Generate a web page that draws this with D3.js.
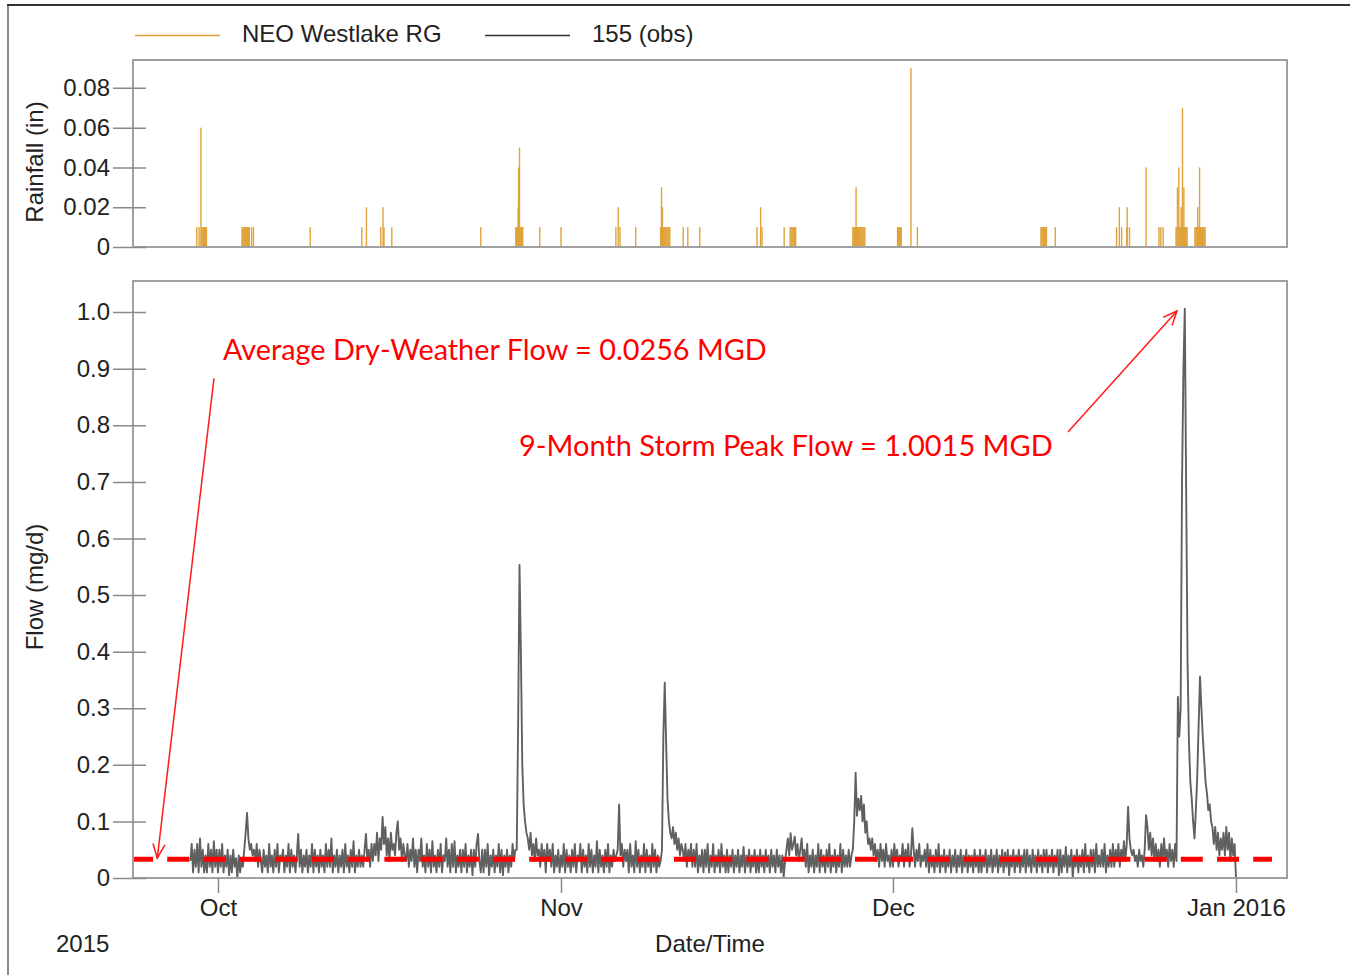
<!DOCTYPE html>
<html>
<head>
<meta charset="utf-8">
<title>155 (obs) flow vs NEO Westlake RG rainfall</title>
<script src="https://d3js.org/d3.v7.min.js"></script>
<style>
	body { margin:0; background:#ffffff; }
	svg { display:block; }
	svg text { font-family:"Liberation Sans", Arial, sans-serif; fill:#222; }
	.axis path { display:none; }
	.axis line { stroke:#8a8a8a; stroke-width:1.5; }
	.axis text { font-size:24px; fill:#222; }
	.panel { fill:none; stroke:#a0a0a0; stroke-width:2; }
	.rainbar { fill:#e0a33b; }
	.flowline { fill:none; stroke:#606060; stroke-width:1.9; stroke-linejoin:round; }
	.dwf { fill:none; stroke:#ff0000; stroke-width:5; stroke-dasharray:22,14.2; stroke-dashoffset:2; }
	.note { font-family:Lato, "Open Sans", sans-serif; fill:#ff0000; }
	.pointer { stroke:#ff1a1a; stroke-width:1.5; fill:none; }
	.title { font-size:24px; }
</style>
</head>
<body>
<div id="chart"></div>
<script>
	var parseTime = d3.timeParse("%Y-%m-%d %H:%M");

	// rain gauge NEO Westlake RG - hourly depth (in)
	var rainTimes = [
		"2015-09-29 02:00","2015-09-29 07:00","2015-09-29 11:00","2015-09-29 13:00","2015-09-29 15:00","2015-09-29 17:00","2015-09-29 19:00","2015-09-29 21:00","2015-09-29 23:00",
		"2015-10-03 04:00","2015-10-03 06:00","2015-10-03 08:00","2015-10-03 10:00","2015-10-03 12:00","2015-10-03 14:00","2015-10-03 16:00","2015-10-03 18:00","2015-10-03 20:00","2015-10-04 01:00","2015-10-04 05:00",
		"2015-10-09 08:00","2015-10-14 00:00","2015-10-14 10:00","2015-10-15 17:00","2015-10-15 22:00","2015-10-16 00:00","2015-10-16 17:00","2015-10-24 18:00",
		"2015-10-27 22:00","2015-10-28 00:00","2015-10-28 02:00","2015-10-28 03:00","2015-10-28 04:00","2015-10-28 06:00","2015-10-28 08:00","2015-10-28 10:00","2015-10-28 12:00","2015-10-28 13:00",
		"2015-10-30 02:00","2015-11-01 00:00","2015-11-05 23:00","2015-11-06 04:00","2015-11-06 08:00","2015-11-07 18:00",
		"2015-11-10 00:00","2015-11-10 02:00","2015-11-10 04:00","2015-11-10 06:00","2015-11-10 08:00","2015-11-10 10:00","2015-11-10 12:00","2015-11-10 14:00","2015-11-10 16:00","2015-11-10 18:00","2015-11-10 20:00",
		"2015-11-12 01:00","2015-11-12 11:00","2015-11-13 13:00","2015-11-18 17:00","2015-11-19 01:00","2015-11-19 04:00",
		"2015-11-21 04:00","2015-11-21 17:00","2015-11-21 19:00","2015-11-21 21:00","2015-11-21 23:00","2015-11-22 01:00","2015-11-22 03:00","2015-11-22 05:00",
		"2015-11-27 09:00","2015-11-27 11:00","2015-11-27 13:00","2015-11-27 15:00","2015-11-27 16:00","2015-11-27 17:00","2015-11-27 19:00","2015-11-27 21:00","2015-11-27 23:00",
		"2015-11-28 01:00","2015-11-28 03:00","2015-11-28 05:00","2015-11-28 07:00","2015-11-28 09:00","2015-11-28 11:00",
		"2015-12-01 10:00","2015-12-01 12:00","2015-12-01 14:00","2015-12-01 16:00","2015-12-01 18:00","2015-12-02 15:00","2015-12-03 05:00",
		"2015-12-14 09:00","2015-12-14 11:00","2015-12-14 13:00","2015-12-14 15:00","2015-12-14 17:00","2015-12-14 19:00","2015-12-14 21:00","2015-12-15 16:00",
		"2015-12-21 05:00","2015-12-21 11:00","2015-12-21 16:00","2015-12-22 03:00","2015-12-22 04:00","2015-12-22 09:00","2015-12-23 21:00",
		"2015-12-25 01:00","2015-12-25 05:00","2015-12-25 10:00",
		"2015-12-26 14:00","2015-12-26 16:00","2015-12-26 17:00","2015-12-26 18:00","2015-12-26 20:00","2015-12-26 22:00","2015-12-27 00:00","2015-12-27 01:00","2015-12-27 02:00","2015-12-27 04:00","2015-12-27 06:00","2015-12-27 07:00","2015-12-27 08:00","2015-12-27 10:00","2015-12-27 12:00","2015-12-27 14:00",
		"2015-12-28 07:00","2015-12-28 09:00","2015-12-28 11:00","2015-12-28 13:00","2015-12-28 15:00","2015-12-28 17:00","2015-12-28 19:00","2015-12-28 21:00","2015-12-28 23:00","2015-12-29 01:00","2015-12-29 03:00","2015-12-29 05:00"
	];
	var rainValues = [
		.01,.01,.06,.01,.01,.01,.01,.01,.01,
		.01,.01,.01,.01,.01,.01,.01,.01,.01,.01,.01,
		.01,.01,.02,.01,.02,.01,.01,.01,
		.01,.01,.01,.02,.04,.05,.01,.01,.01,.01,
		.01,.01,.01,.02,.01,.01,
		.01,.03,.02,.01,.01,.01,.01,.01,.01,.01,.01,
		.01,.01,.01,.01,.02,.01,
		.01,.01,.01,.01,.01,.01,.01,.01,
		.01,.01,.01,.01,.03,.01,.01,.01,.01,
		.01,.01,.01,.01,.01,.01,
		.01,.01,.01,.01,.01,.09,.01,
		.01,.01,.01,.01,.01,.01,.01,.01,
		.01,.02,.01,.01,.02,.01,.04,
		.01,.01,.01,
		.01,.01,.03,.01,.04,.01,.01,.02,.01,.07,.01,.03,.01,.01,.01,.01,
		.01,.01,.01,.02,.01,.04,.01,.01,.01,.01,.01,.01
	];

	// meter 155 observed flow (mg/d), one reading every 3 hours from flowStart
	var flowStart = "2015-09-28 12:00";
	var flowStepHours = 3;
	var flowValues = [
		.03,.06,.01,.05,                          // Sep 28 (from 12:00)
		.02,.06,.01,.07,.02,.05,.01,.04,          // Sep 29
		.01,.06,.02,.05,.01,.065,.02,.05,         // Sep 30
		.01,.05,.02,.06,.01,.04,.02,.05,          // Oct 1
		.005,.04,.01,.05,.02,.035,.00,.04,
		.01,.03,.02,.05,.08,.115,.07,.05,
		.06,.04,.05,.03,.06,.02,.05,.03,
		.01,.05,.02,.04,.01,.06,.02,.04,          // Oct 5
		.01,.05,.02,.06,.01,.04,.03,.05,
		.01,.04,.02,.06,.01,.05,.02,.04,
		.01,.04,.078,.02,.05,.01,.04,.02,
		.05,.01,.04,.02,.06,.01,.05,.02,
		.04,.01,.05,.02,.04,.01,.06,.02,          // Oct 10
		.05,.02,.07,.01,.04,.02,.05,.01,
		.04,.02,.05,.01,.06,.02,.04,.01,
		.05,.02,.065,.01,.04,.02,.05,.02,
		.04,.02,.05,.078,.03,.05,.02,.06,
		.03,.06,.04,.08,.03,.07,.05,.108,         // Oct 15
		.06,.09,.04,.07,.03,.08,.05,.06,
		.04,.08,.10,.05,.07,.03,.06,.04,
		.03,.06,.02,.05,.03,.07,.02,.05,
		.01,.05,.03,.07,.02,.04,.01,.06,
		.02,.05,.01,.065,.02,.04,.01,.05,         // Oct 20
		.02,.06,.01,.04,.03,.07,.02,.05,
		.01,.06,.02,.065,.01,.04,.02,.05,
		.01,.05,.02,.06,.01,.04,.02,.05,
		.005,.05,.02,.06,.078,.03,.01,.05,
		.01,.05,.02,.06,.005,.04,.02,.05,         // Oct 25
		.01,.04,.02,.06,.01,.05,.005,.04,
		.02,.05,.01,.04,.02,.06,.03,.05,
		.05,.27,.553,.40,.20,.13,.10,.08,
		.07,.05,.08,.04,.06,.03,.07,.04,
		.05,.02,.06,.03,.05,.01,.06,.03,          // Oct 30
		.05,.02,.06,.01,.04,.02,.05,.01,
		.04,.02,.06,.01,.05,.02,.04,.01,          // Nov 1
		.05,.02,.06,.01,.04,.03,.06,.01,
		.05,.02,.04,.01,.06,.02,.05,.01,
		.04,.02,.065,.01,.05,.02,.04,.01,
		.05,.02,.06,.01,.04,.02,.05,.03,          // Nov 5
		.04,.05,.13,.04,.06,.02,.05,.03,
		.05,.01,.06,.02,.04,.01,.065,.02,
		.05,.01,.04,.02,.06,.01,.05,.02,
		.04,.01,.06,.02,.05,.01,.04,.02,
		.03,.05,.25,.345,.24,.14,.10,.08,         // Nov 10
		.07,.09,.06,.08,.05,.07,.04,.06,
		.05,.03,.06,.02,.05,.03,.06,.02,
		.05,.02,.06,.01,.04,.02,.05,.01,
		.05,.02,.06,.01,.04,.02,.06,.01,
		.04,.02,.05,.01,.06,.02,.04,.01,          // Nov 15
		.05,.01,.04,.02,.05,.01,.04,.02,
		.05,.01,.04,.02,.055,.01,.04,.02,
		.05,.01,.04,.02,.05,.01,.04,.01,
		.05,.02,.04,.01,.05,.02,.04,.01,
		.05,.02,.04,.01,.05,.02,.04,.01,          // Nov 20
		.04,.002,.03,.05,.07,.04,.079,.05,
		.06,.073,.04,.06,.03,.05,.07,.03,
		.05,.02,.06,.01,.04,.02,.05,.01,
		.04,.02,.06,.01,.05,.02,.04,.01,
		.05,.02,.06,.01,.04,.02,.05,.01,          // Nov 25
		.04,.02,.06,.01,.05,.02,.04,.02,
		.05,.02,.04,.05,.10,.186,.11,.14,
		.12,.145,.10,.13,.08,.10,.06,.07,
		.05,.07,.04,.06,.03,.05,.02,.06,
		.03,.05,.02,.06,.03,.04,.02,.05,          // Nov 30
		.02,.06,.03,.05,.02,.04,.03,.06,          // Dec 1
		.02,.05,.03,.06,.02,.04,.088,.05,
		.02,.05,.03,.06,.02,.04,.03,.05,
		.02,.06,.01,.05,.02,.04,.01,.05,
		.02,.06,.01,.04,.02,.05,.01,.04,          // Dec 5
		.02,.05,.01,.04,.02,.05,.01,.04,
		.02,.05,.01,.04,.02,.05,.01,.04,
		.02,.04,.01,.05,.02,.04,.01,.05,
		.01,.04,.02,.05,.01,.04,.02,.05,
		.01,.04,.02,.05,.01,.04,.02,.05,          // Dec 10
		.01,.045,.02,.05,.005,.04,.02,.05,
		.01,.04,.02,.05,.01,.04,.02,.05,
		.01,.05,.02,.04,.01,.05,.02,.04,
		.01,.05,.02,.04,.01,.05,.02,.05,
		.01,.04,.02,.05,.01,.04,.02,.05,          // Dec 15
		.005,.05,.01,.04,.02,.055,.01,.04,
		.02,.05,.00,.04,.02,.05,.01,.04,
		.02,.05,.01,.06,.02,.04,.01,.05,
		.02,.05,.01,.06,.02,.04,.02,.05,
		.02,.06,.01,.04,.02,.05,.02,.06,          // Dec 20
		.02,.05,.03,.06,.02,.05,.03,.065,
		.03,.06,.126,.07,.05,.04,.05,.03,
		.04,.02,.05,.03,.04,.02,.05,.111,
		.09,.05,.08,.04,.07,.03,.06,.03,
		.05,.02,.06,.03,.07,.03,.05,.02,          // Dec 25
		.06,.03,.05,.02,.06,.03,.32,.25,
		.30,.70,.90,1.006,.68,.38,.24,.17,
		.14,.10,.07,.12,.18,.27,.356,.30,
		.25,.21,.17,.15,.12,.13,.10,.09,
		.06,.09,.05,.08,.04,.07,.05,.08,          // Dec 30
		.04,.09,.05,.08,.03,.07,.04,.06,
		0                                          // Jan 1 00:00
	];

	// average dry-weather flow reference line
	var dwfValue = 0.033;
	var dwfEnd = "2016-01-04 06:00";

	var xDomain = ["2015-09-23 07:40", "2016-01-05 14:40"];
	var xTickDates = ["2015-10-01 00:00", "2015-11-01 00:00", "2015-12-01 00:00", "2016-01-01 00:00"];
	var xTickLabels = ["Oct", "Nov", "Dec", "Jan 2016"];
	var rainTicks = [0, 0.02, 0.04, 0.06, 0.08];
	var flowTicks = [0, 0.1, 0.2, 0.3, 0.4, 0.5, 0.6, 0.7, 0.8, 0.9, 1.0];

	var legendLabels = ["NEO Westlake RG", "155 (obs)"];
	var legendColors = ["#e0a33b", "#333333"];

	var noteLabels = ["Average Dry-Weather Flow = 0.0256 MGD", "9-Month Storm Peak Flow = 1.0015 MGD"];
	var noteTextAt = [["2015-10-01 10:50", 0.915], ["2015-10-28 04:50", 0.746]];
	var noteArrowFrom = [["2015-09-30 15:20", 0.883], ["2015-12-16 19:40", 0.788]];
	var noteArrowTo = [["2015-09-25 12:20", 0.035], ["2015-12-26 16:00", 1.002]];
	var noteWidths = [544, 534];

	var rain = rainTimes.map(function(t, i) { return { t: parseTime(t), v: rainValues[i] }; });
	var t0 = parseTime(flowStart);
	var flow = flowValues.map(function(v, i) { return { t: d3.timeHour.offset(t0, i * flowStepHours), v: v }; });

	var W = 1350, H = 975;
	var left = 133, right = 1287;
	var rainTop = 60, rainBottom = 247;
	var flowTop = 281, flowBottom = 878;

	var svg = d3.select("#chart").append("svg").attr("width", W).attr("height", H);

	// page frame
	svg.append("line").attr("x1", 8).attr("x2", 8).attr("y1", 5).attr("y2", H).attr("stroke", "#8c8c8c").attr("stroke-width", 2);
	svg.append("line").attr("x1", 7).attr("x2", W).attr("y1", 5).attr("y2", 5).attr("stroke", "#333").attr("stroke-width", 2);

	var x = d3.scaleTime().domain(xDomain.map(parseTime)).range([left, right]);
	var yRain = d3.scaleLinear().domain([0, 0.094]).range([rainBottom, rainTop]);
	var yFlow = d3.scaleLinear().domain([0, 1.055]).range([flowBottom, flowTop]);

	var defs = svg.append("defs");
	defs.append("clipPath").attr("id", "clipRain").append("rect")
		.attr("x", left).attr("y", rainTop).attr("width", right - left).attr("height", rainBottom - rainTop);
	defs.append("clipPath").attr("id", "clipFlow").append("rect")
		.attr("x", left).attr("y", flowTop).attr("width", right - left).attr("height", flowBottom - flowTop);
	defs.append("marker").attr("id", "arrowhead")
		.attr("viewBox", "-16 -8 18 16").attr("refX", 0).attr("refY", 0)
		.attr("markerWidth", 18).attr("markerHeight", 16).attr("markerUnits", "userSpaceOnUse")
		.attr("orient", "auto")
		.append("path").attr("d", "M-14,-6 L0,0 L-14,6")
		.attr("fill", "none").attr("stroke", "#ff1a1a").attr("stroke-width", 1.5);

	// legend
	var legend = svg.append("g").attr("class", "legend");
	var legendX = [135, 485];
	legendLabels.forEach(function(lbl, i) {
		legend.append("line").attr("x1", legendX[i]).attr("x2", legendX[i] + 85)
			.attr("y1", 35.5).attr("y2", 35.5)
			.attr("stroke", legendColors[i]).attr("stroke-width", 1.3);
		legend.append("text").attr("x", legendX[i] + 107).attr("y", 42)
			.attr("class", "title").text(lbl);
	});

	// ---- rainfall panel
	svg.append("g").attr("clip-path", "url(#clipRain)")
		.selectAll(".rainbar").data(rain).enter().append("rect")
		.attr("class", "rainbar")
		.attr("x", function(d) { return x(d.t) - 0.7; })
		.attr("width", 1.4)
		.attr("y", function(d) { return yRain(d.v); })
		.attr("height", function(d) { return yRain(0) - yRain(d.v); });

	svg.append("rect").attr("class", "panel")
		.attr("x", left).attr("y", rainTop).attr("width", right - left).attr("height", rainBottom - rainTop);

	var rainAxis = svg.append("g").attr("class", "axis").attr("transform", "translate(" + left + ",0)")
		.call(d3.axisLeft(yRain).tickValues(rainTicks).tickSize(20).tickPadding(3)
			.tickFormat(function(d) { return d === 0 ? "0" : d3.format(".2f")(d); }));
	rainAxis.selectAll(".tick line").attr("x1", 13);

	svg.append("text").attr("class", "title")
		.attr("transform", "translate(43," + 162 + ") rotate(-90)")
		.attr("text-anchor", "middle").text("Rainfall (in)");

	// ---- flow panel
	var flowLine = d3.line()
		.x(function(d) { return x(d.t); })
		.y(function(d) { return yFlow(d.v); });

	var flowG = svg.append("g").attr("clip-path", "url(#clipFlow)");
	flowG.append("path").datum(flow).attr("class", "flowline").attr("d", flowLine);
	flowG.append("path")
		.datum([{ t: x.domain()[0], v: dwfValue }, { t: parseTime(dwfEnd), v: dwfValue }])
		.attr("class", "dwf").attr("d", flowLine);

	svg.append("rect").attr("class", "panel")
		.attr("x", left).attr("y", flowTop).attr("width", right - left).attr("height", flowBottom - flowTop);

	var flowAxis = svg.append("g").attr("class", "axis").attr("transform", "translate(" + left + ",0)")
		.call(d3.axisLeft(yFlow).tickValues(flowTicks).tickSize(20).tickPadding(3)
			.tickFormat(function(d) { return d === 0 ? "0" : d3.format(".1f")(d); }));
	flowAxis.selectAll(".tick line").attr("x1", 13);

	svg.append("g").attr("class", "axis").attr("transform", "translate(0," + flowBottom + ")")
		.call(d3.axisBottom(x).tickValues(xTickDates.map(parseTime)).tickSize(15).tickPadding(6)
			.tickFormat(function(d, i) { return xTickLabels[i]; }));

	svg.append("text").attr("class", "title")
		.attr("transform", "translate(43," + 587 + ") rotate(-90)")
		.attr("text-anchor", "middle").text("Flow (mg/d)");
	svg.append("text").attr("class", "title").attr("x", 56).attr("y", 952).text("2015");
	svg.append("text").attr("class", "title").attr("x", 710).attr("y", 952)
		.attr("text-anchor", "middle").text("Date/Time");

	// ---- annotations
	var notes = svg.append("g");
	noteLabels.forEach(function(lbl, i) {
		var from = noteArrowFrom[i], to = noteArrowTo[i], at = noteTextAt[i];
		notes.append("line").attr("class", "pointer")
			.attr("x1", x(parseTime(from[0]))).attr("y1", yFlow(from[1]))
			.attr("x2", x(parseTime(to[0]))).attr("y2", yFlow(to[1]))
			.attr("marker-end", "url(#arrowhead)");
		var t = notes.append("text").attr("class", "note")
			.attr("x", x(parseTime(at[0]))).attr("y", yFlow(at[1]))
			.style("font-size", "30px").text(lbl);
		var w = t.node().getComputedTextLength();
		t.style("font-size", (30 * noteWidths[i] / w).toFixed(2) + "px");
	});
</script>
</body>
</html>
